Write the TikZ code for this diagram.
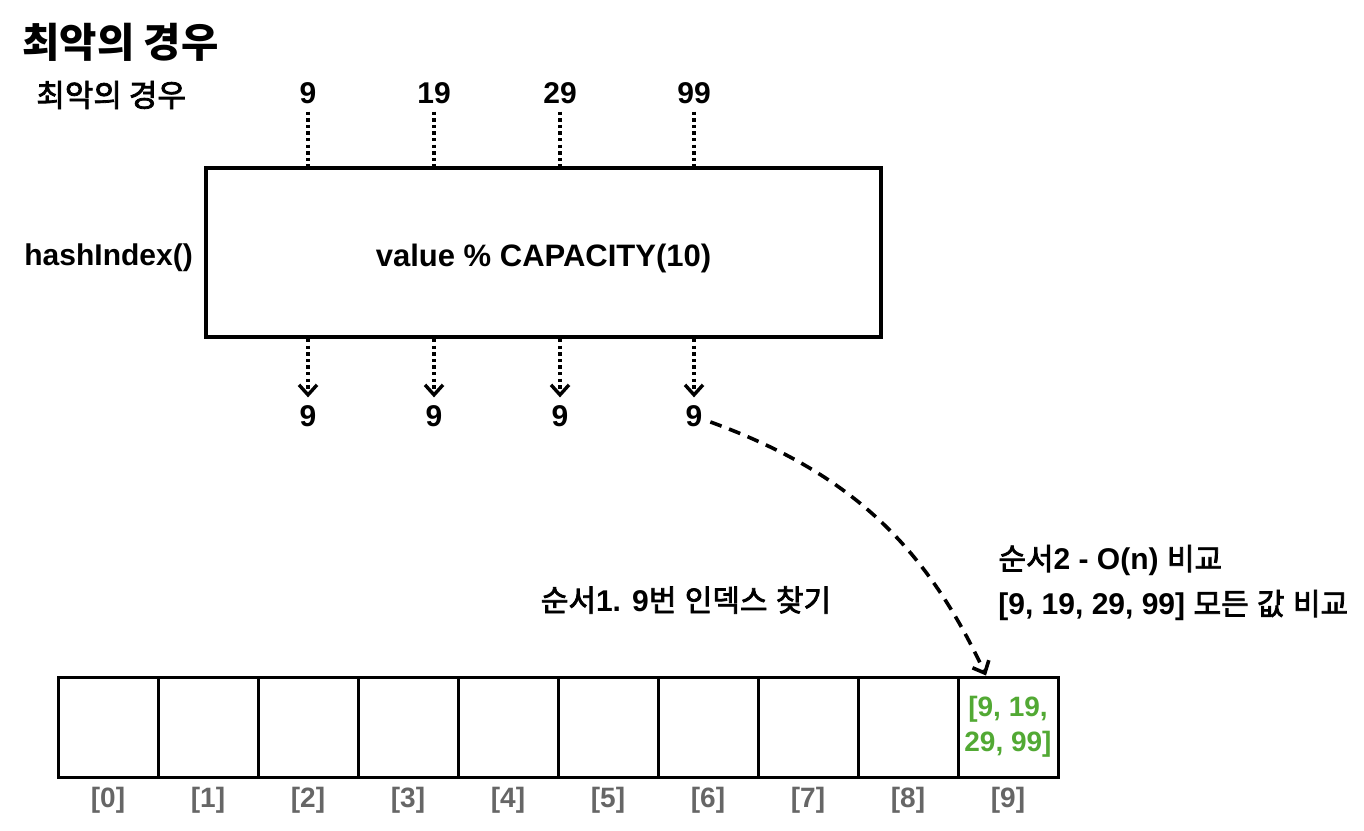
\documentclass[tikz,border=0pt]{standalone}
\usepackage{fontspec}
\setmainfont{Liberation Sans}
\newfontfamily\kr{Noto Sans CJK KR}
\newfontfamily\krmed[FakeBold=2.5]{Noto Sans CJK KR}
\newcommand{\ko}[1]{{\krmed\mdseries #1}}
\usepackage{tikz}
\usetikzlibrary{
    arrows.meta,
    calc,
    positioning
}
\definecolor{idxgray}{HTML}{666666}
\definecolor{hitgreen}{HTML}{52A934}
\tikzstyle{dotline}=[line width=1.7pt,dash pattern=on 1.7pt off 1.6pt]
\tikzstyle{dotarrow}=[dotline,-{Straight Barb[length=5pt,width=9pt]}]
\tikzstyle{jumparrow}=[line width=1.8pt,dash pattern=on 6pt off 4pt,-{Straight Barb[length=5pt,width=9pt]}]

\begin{document}
\begin{tikzpicture}[
    x=0.5pt,y=-0.5pt,
    every node/.style={inner sep=0pt},
    txt/.style={font=\fontsize{15}{18}\selectfont\bfseries},
    num/.style={txt,outer sep=4pt},
    krtext/.style={font=\fontsize{15}{22.5}\selectfont\bfseries},
    idx/.style={font=\fontsize{14}{17}\selectfont\bfseries,text=idxgray},
    cell/.style={
        draw,
        line width=1.5pt,
        minimum width=50pt,
        minimum height=50pt
    },
    hashbox/.style={
        draw,
        line width=2pt,
        minimum width=337.5pt,
        minimum height=84.5pt,
        font=\fontsize{15.5}{18}\selectfont\bfseries,
        text height=16.5pt,
        text depth=2.5pt
    }
]
\useasboundingbox (0,0) rectangle (1364,830);
\node[anchor=west,font=\kr\bfseries\fontsize{20.3}{24}\selectfont] (title) at (22,42) {최악의 경우};
\node[anchor=west,font=\fontsize{15.5}{20}\selectfont] (case) at (36,95) {\ko{최악의 경우}};
\node[num] (in1) at (308,93) {9};
\node[num] (in2) at (434,93) {19};
\node[num] (in3) at (560,93) {29};
\node[num] (in4) at (694,93) {99};
\node[anchor=west,txt] (hash) at (24,258) {hashIndex()};
\node[hashbox] (fn) at (543.5,252.5) {value \% CAPACITY(10)};
\node[num] (out1) at (308,416) {9};
\node[num] (out2) at (434,416) {9};
\node[num] (out3) at (560,416) {9};
\node[num] (out4) at (694,416) {9};
% hash input / output
\foreach \k in {1,...,4} {
    \draw[dotline] (in\k) -- (in\k |- fn.north);
    \draw[dotarrow] (out\k |- fn.south) -- (out\k);
}
% bucket array
\foreach \i in {0,...,9} {
    \node[cell] (c\i) at ({108+100*\i},727) {};
    \node[idx] (i\i) at ({108+100*\i},800) {[\i]};
}
\node[font=\fontsize{14}{17.5}\selectfont\bfseries,text=hitgreen,align=center] (vals) at (c9) {[9, 19,\\29, 99]};
\node[krtext] (step1) at (686,600) {\ko{순서}1. 9\ko{번} \ko{인덱스} \ko{찾기}};
\node[krtext,anchor=west,align=left] (step2) at (998,583) {\ko{순서}2 - O(n) \ko{비교}\\{[9, 19, 29, 99]} \ko{모든} \ko{값} \ko{비교}};
\draw[jumparrow] (out4.-20) to[out=-20,in=115] ($(c9.north)+(-22,0)$);
\end{tikzpicture}
\end{document}
